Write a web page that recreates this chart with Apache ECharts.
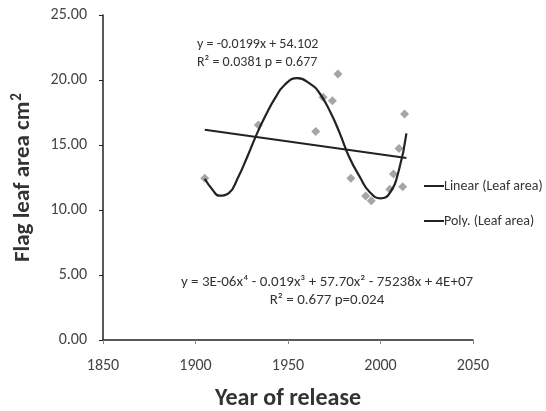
<!DOCTYPE html>
<html>
<head>
<meta charset="utf-8">
<script src="https://cdn.jsdelivr.net/npm/echarts@6/dist/echarts.min.js"></script>
<style>
  html, body { margin: 0; padding: 0; background: #fff; }
  #chart { width: 546px; height: 411px; }
</style>
</head>
<body>
<div id="chart"></div>
<script>
// leaf area per variety (year of release, cm2)
const releaseYears = [1905, 1934, 1965, 1969, 1974, 1977, 1984, 1992, 1995, 2005, 2007, 2010, 2012, 2013]
const leafArea = [12.44, 16.54, 16.03, 18.67, 18.41, 20.46, 12.44, 11.08, 10.72, 11.59, 12.77, 14.74, 11.79, 17.38]

// linear trend line ends
const linearYears = [1905, 2014]
const linearValues = [16.17, 14.0]

// poly trend curve
const polyYears = [1905, 1909, 1913, 1918, 1923, 1928, 1933, 1938, 1943, 1948, 1955, 1962, 1967, 1973, 1978, 1983, 1989, 1994, 2000, 2005, 2010, 2014]
const polyValues = [12.4, 11.6, 11.1, 11.3, 12.5, 14.1, 15.8, 17.3, 18.6, 19.6, 20.15, 19.7, 19.0, 17.5, 15.9, 14.1, 12.5, 11.4, 10.9, 11.3, 13.1, 15.9]

const FONT = "Carlito, 'Open Sans', sans-serif"
const zip = (xs, ys) => xs.map((x, i) => [x, ys[i]])

const chart = echarts.init(document.getElementById('chart'))

const option = {
  animation: false,
  backgroundColor: '#fff',
  grid: { left: 103, right: 73, top: 15, bottom: 71, outerBoundsMode: 'none' },
  legend: {
    orient: 'vertical',
    left: 419,
    top: 173,
    itemWidth: 20,
    itemHeight: 2,
    itemGap: 19,
    icon: 'rect',
    data: ['Linear (Leaf area)', 'Poly. (Leaf area)'],
    textStyle: { fontFamily: FONT, fontSize: 14, color: '#333', lineHeight: 16, padding: [0, 0, 0, -5], overflow: 'none' },
  },
  xAxis: {
    type: 'value',
    min: 1850,
    max: 2050,
    interval: 50,
    name: 'Year of release',
    nameLocation: 'middle',
    nameGap: 47,
    nameTextStyle: { fontFamily: FONT, fontSize: 24, fontWeight: 'bold', color: '#333' },
    axisLine: { lineStyle: { color: '#222', width: 1.5 } },
    axisTick: { show: true, length: 4, lineStyle: { color: '#888' } },
    axisLabel: { fontFamily: FONT, fontSize: 16, color: '#444', margin: 18, formatter: (v) => String(v) },
    splitLine: { show: false },
  },
  yAxis: {
    type: 'value',
    min: 0,
    max: 25,
    interval: 5,
    name: '{a|Flag leaf area cm}{b|2}',
    nameLocation: 'middle',
    nameGap: 66,
    nameTextStyle: {
      rich: {
        a: { fontFamily: FONT, fontSize: 23, fontWeight: 'bold', color: '#333', lineHeight: 27 },
        b: { fontFamily: FONT, fontSize: 15, fontWeight: 'bold', color: '#333', lineHeight: 27, verticalAlign: 'top', padding: [0, 0, 10, 1] },
      },
    },
    axisLine: { show: true, lineStyle: { color: '#222', width: 1.5 } },
    axisTick: { show: true, length: 4, lineStyle: { color: '#222' } },
    axisLabel: { fontFamily: FONT, fontSize: 16, color: '#444', margin: 16, formatter: (v) => v.toFixed(2) },
    splitLine: { show: false },
  },
  series: [
    {
      name: 'Leaf area',
      type: 'scatter',
      symbol: 'diamond',
      symbolSize: 9,
      itemStyle: { color: '#8f8f8f' },
      data: zip(releaseYears, leafArea),
      z: 2,
    },
    {
      name: 'Linear (Leaf area)',
      type: 'line',
      showSymbol: false,
      lineStyle: { color: '#222', width: 2 },
      itemStyle: { color: '#222' },
      data: zip(linearYears, linearValues),
      z: 3,
    },
    {
      name: 'Poly. (Leaf area)',
      type: 'line',
      smooth: 0.5,
      showSymbol: false,
      lineStyle: { color: '#222', width: 2.2 },
      itemStyle: { color: '#222' },
      data: zip(polyYears, polyValues),
      z: 3,
    },
  ],
  graphic: [
    {
      type: 'text', left: 197, top: 37,
      style: { text: 'y = -0.0199x + 54.102', font: '14px ' + FONT, fill: '#333' },
    },
    {
      type: 'text', left: 197, top: 55,
      style: { text: 'R² = 0.0381 p = 0.677', font: '14px ' + FONT, fill: '#333' },
    },
    {
      type: 'text', x: 327, y: 282,
      style: { text: 'y = 3E-06x⁴ - 0.019x³ + 57.70x² - 75238x + 4E+07', font: '15px ' + FONT, fill: '#333', align: 'center', verticalAlign: 'middle' },
    },
    {
      type: 'text', x: 327, y: 300,
      style: { text: 'R² = 0.677 p=0.024', font: '15px ' + FONT, fill: '#333', align: 'center', verticalAlign: 'middle' },
    },
  ],
}

chart.setOption(option)
</script>
</body>
</html>
